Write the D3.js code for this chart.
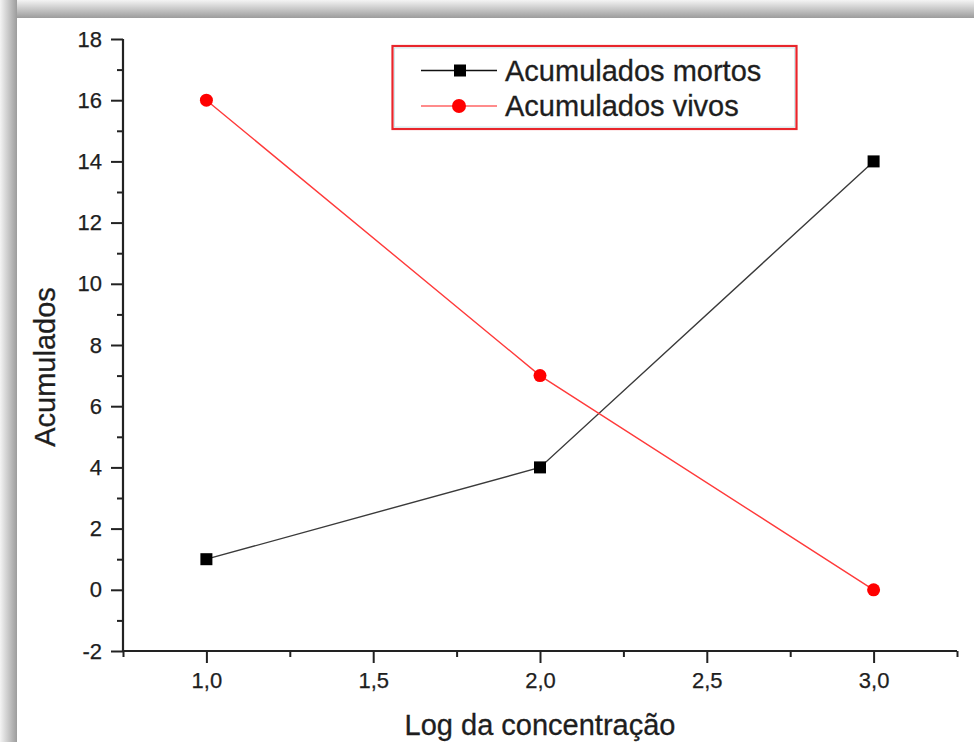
<!DOCTYPE html>
<html>
<head>
<meta charset="utf-8">
<script src="https://cdn.jsdelivr.net/npm/d3@7/dist/d3.min.js"></script>
<style>
  html, body { margin: 0; padding: 0; background: #fff; }
  svg { display: block; font-family: "Liberation Sans", Arial, sans-serif; }
</style>
</head>
<body>
<svg id="chart" width="974" height="742"></svg>
<script>
// Log of concentration (x) and accumulated counts per series
const concentrations = [1.0, 2.0, 3.0];
const mortos = [1, 4, 14];
const vivos = [16, 7, 0];
const seriesNames = ["Acumulados mortos", "Acumulados vivos"];
const yTicks = [-2, 0, 2, 4, 6, 8, 10, 12, 14, 16, 18];
const xTicks = [1.0, 1.5, 2.0, 2.5, 3.0];
const xTitle = "Log da concentração";
const yTitle = "Acumulados";

const svg = d3.select("#chart");
const W = 974, H = 742;

// framed page with a soft shadow along top and left edges
const defs = svg.append("defs");
const gTop = defs.append("linearGradient").attr("id", "shadeTop")
  .attr("x1", 0).attr("y1", 0).attr("x2", 0).attr("y2", 1);
gTop.append("stop").attr("offset", 0).attr("stop-color", "#f4f4f4");
gTop.append("stop").attr("offset", 1).attr("stop-color", "#9c9c9c");
const gLeft = defs.append("linearGradient").attr("id", "shadeLeft")
  .attr("x1", 0).attr("y1", 0).attr("x2", 1).attr("y2", 0);
gLeft.append("stop").attr("offset", 0).attr("stop-color", "#f4f4f4");
gLeft.append("stop").attr("offset", 1).attr("stop-color", "#9c9c9c");

svg.append("rect").attr("x", 0).attr("y", 0).attr("width", W).attr("height", H).attr("fill", "#fff");
svg.append("rect").attr("x", 0).attr("y", 0).attr("width", W).attr("height", 18).attr("fill", "url(#shadeTop)");
svg.append("rect").attr("x", 0).attr("y", 0).attr("width", 17).attr("height", H).attr("fill", "url(#shadeLeft)");
svg.append("rect").attr("x", 17).attr("y", 18).attr("width", W - 17).attr("height", H - 18).attr("fill", "#fff");

// plot area
const x0 = 123, x1 = 957, y0 = 651, y1 = 39;
const x = d3.scaleLinear().domain([0.75, 3.25]).range([x0, x1]);
const y = d3.scaleLinear().domain([-2, 18]).range([y0, y1]);

const axisColor = "#222";
const textColor = "#1e1e1e";

// minor ticks between the labelled ones
const xMinor = d3.range(0.75, 3.26, 0.5);
const yMinor = d3.range(-1, 18, 2);

const xAxis = svg.append("g").attr("transform", `translate(0,${y0})`)
  .call(d3.axisBottom(x).tickValues(xTicks).tickSize(12).tickPadding(9)
    .tickFormat(d => d3.format(".1f")(d).replace(".", ",")));
svg.append("g").attr("transform", `translate(0,${y0})`)
  .call(d3.axisBottom(x).tickValues(xMinor).tickSize(6).tickFormat(""))
  .call(g => g.select(".domain").remove());

const yAxis = svg.append("g").attr("transform", `translate(${x0},0)`)
  .call(d3.axisLeft(y).tickValues(yTicks).tickSize(12).tickPadding(9)
    .tickFormat(d => String(d)));
svg.append("g").attr("transform", `translate(${x0},0)`)
  .call(d3.axisLeft(y).tickValues(yMinor).tickSize(6).tickFormat(""))
  .call(g => g.select(".domain").remove());

svg.selectAll(".domain").attr("stroke", axisColor).attr("stroke-width", 2.2);
svg.selectAll(".tick line").attr("stroke", axisColor).attr("stroke-width", 2);
svg.selectAll(".tick text").attr("fill", textColor)
  .attr("font-family", "'Liberation Sans', Arial, sans-serif").attr("font-size", 22)
  .attr("stroke", textColor).attr("stroke-width", 0.25);
// outer ends of the domain path are flat (no outer ticks)
xAxis.select(".domain").attr("d", `M${x0},0H${x1}`);
yAxis.select(".domain").attr("d", `M0,${y0}V${y1}`);

// axis titles
svg.append("text").attr("x", (403 + 677) / 2).attr("y", 735)
  .attr("text-anchor", "middle").attr("font-size", 29).attr("fill", textColor)
  .attr("stroke", textColor).attr("stroke-width", 0.3)
  .text(xTitle);
svg.append("text").attr("transform", `translate(55,367) rotate(-90)`)
  .attr("text-anchor", "middle").attr("font-size", 29).attr("fill", textColor)
  .attr("stroke", textColor).attr("stroke-width", 0.3)
  .text(yTitle);

// series
const blackLine = "#3a3a3a", redLine = "#ff3a3a";
const line = d3.line().x(d => x(d[0])).y(d => y(d[1]));
const mortosPts = concentrations.map((c, i) => [c, mortos[i]]);
const vivosPts = concentrations.map((c, i) => [c, vivos[i]]);

svg.append("path").datum(mortosPts).attr("d", line)
  .attr("fill", "none").attr("stroke", blackLine).attr("stroke-width", 1.4);
svg.append("path").datum(vivosPts).attr("d", line)
  .attr("fill", "none").attr("stroke", redLine).attr("stroke-width", 1.4);

const sq = 12;
svg.append("g").selectAll("rect").data(mortosPts).join("rect")
  .attr("x", d => x(d[0]) - sq / 2).attr("y", d => y(d[1]) - sq / 2)
  .attr("width", sq).attr("height", sq).attr("fill", "#000");
svg.append("g").selectAll("circle").data(vivosPts).join("circle")
  .attr("cx", d => x(d[0])).attr("cy", d => y(d[1])).attr("r", 6.5)
  .attr("fill", "#ff0000");

// legend
const lg = svg.append("g");
lg.append("rect").attr("x", 392.5).attr("y", 46).attr("width", 404).attr("height", 83)
  .attr("fill", "#fff").attr("stroke", "#e8262c").attr("stroke-width", 2.2);
lg.append("rect").attr("x", 394.5).attr("y", 48).attr("width", 400).attr("height", 79)
  .attr("fill", "none").attr("stroke", "#bfe6ea").attr("stroke-width", 0.8);
const rows = [70.5, 106];
lg.append("line").attr("x1", 421).attr("x2", 497).attr("y1", rows[0]).attr("y2", rows[0])
  .attr("stroke", "#111").attr("stroke-width", 1.6);
lg.append("rect").attr("x", 460 - sq / 2).attr("y", rows[0] - sq / 2).attr("width", sq).attr("height", sq).attr("fill", "#000");
lg.append("line").attr("x1", 421).attr("x2", 497).attr("y1", rows[1]).attr("y2", rows[1])
  .attr("stroke", "#ff6464").attr("stroke-width", 1.6);
lg.append("circle").attr("cx", 459).attr("cy", rows[1]).attr("r", 7).attr("fill", "#ff0000");
seriesNames.forEach((name, i) => {
  lg.append("text").attr("x", 505).attr("y", rows[i] + 10)
    .attr("font-size", 29).attr("fill", textColor)
    .attr("stroke", textColor).attr("stroke-width", 0.3).text(name);
});
</script>
</body>
</html>
